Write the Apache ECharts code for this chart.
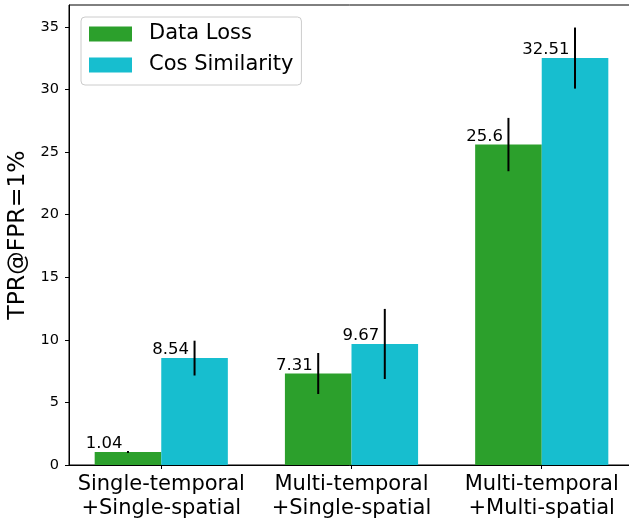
<!DOCTYPE html>
<html>
<head>
<meta charset="utf-8">
<script src="https://cdn.jsdelivr.net/npm/echarts@6/dist/echarts.min.js"></script>
<style>html,body{margin:0;padding:0;background:#fff}#c{width:629px;height:521px}</style>
</head>
<body>
<div id="c"></div>
<script>
var categories = ['Single-temporal\n+Single-spatial', 'Multi-temporal\n+Single-spatial', 'Multi-temporal\n+Multi-spatial'];
var seriesNames = ['Data Loss', 'Cos Similarity'];
var dataLoss = [1.04, 7.31, 25.6];
var dataLossErr = [0.08, 1.64, 2.13];
var cosSim = [8.54, 9.67, 32.51];
var cosSimErr = [1.39, 2.8, 2.44];
var yTicks = [0, 5, 10, 15, 20, 25, 30, 35];
var catIdx = [0, 1, 2];

var BAR_W = 0.35;
var FONT = 'DejaVu Sans';

function makeRender(offset) {
  return function (params, api) {
    var i = api.value(0), v = api.value(1), e = api.value(2);
    var cx = i + offset;
    var p0 = api.coord([cx - BAR_W / 2, v]);
    var p1 = api.coord([cx + BAR_W / 2, 0]);
    var c = api.coord([cx, v]);
    var eTop = api.coord([cx, v + e]);
    var eBot = api.coord([cx, v - e]);
    return {
      type: 'group',
      children: [
        { type: 'rect', shape: { x: p0[0], y: p0[1], width: p1[0] - p0[0], height: p1[1] - p0[1] },
          style: { fill: api.visual('color') } },
        { type: 'line', shape: { x1: c[0], y1: eTop[1], x2: c[0], y2: eBot[1] },
          style: { stroke: '#000', lineWidth: 2 } },
        { type: 'text', x: c[0] - 5.5, y: c[1] + 0.5,
          style: { text: String(v), fill: '#000', font: '16.5px "' + FONT + '"', align: 'right', verticalAlign: 'bottom' } }
      ]
    };
  };
}

var chart = echarts.init(document.getElementById('c'), null, { renderer: 'canvas' });
chart.setOption({
  animation: false,
  backgroundColor: '#fff',
  textStyle: { fontFamily: FONT },
  grid: { left: 69, right: -5, top: 5, bottom: 56, outerBoundsMode: 'none', containLabel: false,
    show: true, borderColor: '#000', borderWidth: 1, backgroundColor: 'transparent' },
  legend: {
    data: seriesNames.map(function (n) { return { name: n, icon: 'rect' }; }),
    orient: 'vertical', left: 81, top: 17,
    itemWidth: 43, itemHeight: 15, itemGap: 7,
    padding: [5, 8, 8, 8],
    backgroundColor: 'rgba(255,255,255,0.8)', borderColor: '#cccccc', borderWidth: 1, borderRadius: 4,
    textStyle: { fontSize: 21, lineHeight: 24, color: '#000', fontFamily: FONT, padding: [0, 0, 0, 12] }
  },
  xAxis: {
    type: 'value', min: -0.485, max: 2.485,
    splitLine: { show: false },
    axisLine: { show: true, onZero: false, lineStyle: { color: '#000', width: 1 } },
    axisTick: { show: true, length: 4, lineStyle: { color: '#000' }, customValues: catIdx },
    axisLabel: { customValues: catIdx, fontSize: 21, lineHeight: 24, color: '#000', margin: 8, fontFamily: FONT,
      formatter: function (v) { return categories[Math.round(v)]; } }
  },
  yAxis: {
    type: 'value', min: 0, max: 36.75,
    name: 'TPR@FPR=1%', nameLocation: 'middle', nameGap: 38, nameRotate: 90,
    nameTextStyle: { fontSize: 23.5, color: '#000', fontFamily: FONT },
    splitLine: { show: false },
    axisLine: { show: true, onZero: false, lineStyle: { color: '#000', width: 1 } },
    axisTick: { show: true, length: 4, lineStyle: { color: '#000' }, customValues: yTicks },
    axisLabel: { customValues: yTicks, fontSize: 14.5, color: '#000', margin: 10, fontFamily: FONT }
  },
  series: [
    { name: seriesNames[0], type: 'custom', itemStyle: { color: '#2ca02c' }, renderItem: makeRender(-0.175),
      encode: { x: 0, y: 1 }, data: catIdx.map(function (i) { return [i, dataLoss[i], dataLossErr[i]]; }) },
    { name: seriesNames[1], type: 'custom', itemStyle: { color: '#17becf' }, renderItem: makeRender(0.175),
      encode: { x: 0, y: 1 }, data: catIdx.map(function (i) { return [i, cosSim[i], cosSimErr[i]]; }) }
  ]
});
</script>
</body>
</html>
